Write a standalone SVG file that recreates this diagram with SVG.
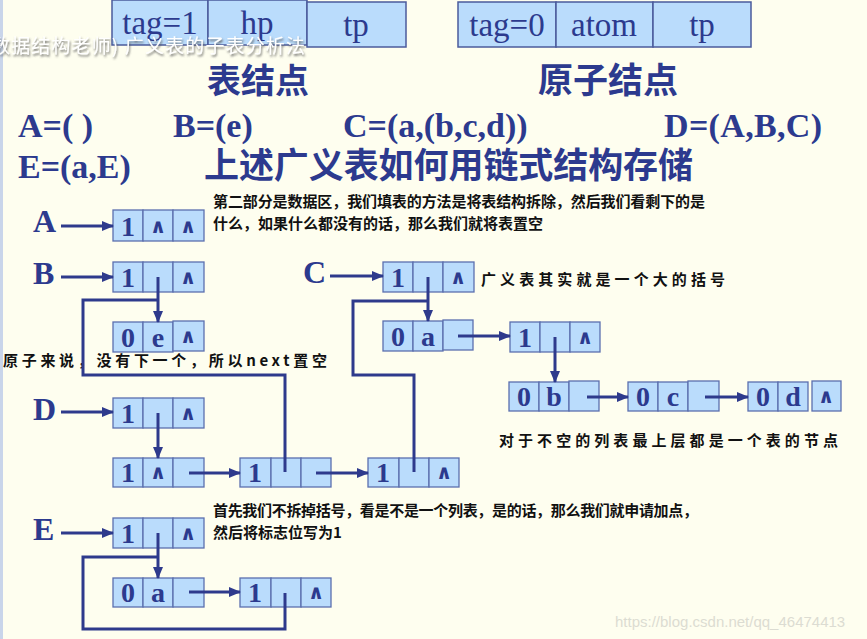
<svg xmlns="http://www.w3.org/2000/svg" width="867" height="639" viewBox="0 0 867 639">
<defs>
<style>
.c{fill:#BADCFC;stroke:#5B6FAE;stroke-width:1.3}
.tc{fill:#BADCFC;stroke:#4B5B9C;stroke-width:1.5}
.tt{font-family:"Liberation Serif",serif;font-size:33px;fill:#2C3A8E;text-anchor:middle}
.big{font-family:"Liberation Serif",serif;font-weight:bold;font-size:34px;fill:#2C3A8E}
.lab{font-family:"Liberation Serif",serif;font-weight:bold;font-size:32px;fill:#2C3A8E}
.v{font-family:"Liberation Serif",serif;font-weight:bold;font-size:28px;fill:#2C3A8E;text-anchor:middle}
.n{font-family:"DejaVu Sans",sans-serif;font-weight:bold;font-size:20px;fill:#2C3A8E;text-anchor:middle}
.h{font-family:"Noto Sans CJK SC",sans-serif;font-weight:bold;fill:#2C3A8E}
.p{font-family:"Noto Sans CJK SC",sans-serif;font-weight:bold;font-size:15px;fill:#111}
.ln{fill:none;stroke:#2E3A8C;stroke-width:3}
.ar{fill:none;stroke:#2E3A8C;stroke-width:3;marker-end:url(#ah)}
</style>
<marker id="ah" markerUnits="userSpaceOnUse" markerWidth="12" markerHeight="10" refX="11" refY="5" orient="auto">
<path d="M0,0 L12,5 L0,10 Z" fill="#2E3A8C"/>
</marker>
<filter id="sh" x="-5%" y="-30%" width="110%" height="160%">
<feDropShadow dx="1" dy="2" stdDeviation="1.2" flood-color="#555" flood-opacity="0.8"/>
</filter>
</defs>
<rect width="867" height="639" fill="#FEFEEF"/>
<rect width="3" height="639" fill="#C9D5EA"/>

<g id="table-node">
<rect class="tc" x="112" y="0" width="96" height="45"/>
<rect class="tc" x="208" y="0" width="99" height="45"/>
<rect class="tc" x="307" y="2" width="99" height="45"/>
<text class="tt" x="160" y="34">tag=1</text>
<text class="tt" x="257" y="34">hp</text>
<text class="tt" x="356" y="36">tp</text>
<text class="h" x="207" y="93" font-size="34">表结点</text>
</g>
<g id="atom-node">
<rect class="tc" x="458" y="2" width="98" height="45"/>
<rect class="tc" x="556" y="2" width="97" height="45"/>
<rect class="tc" x="653" y="2" width="98" height="45"/>
<text class="tt" x="507" y="36">tag=0</text>
<text class="tt" x="604" y="36">atom</text>
<text class="tt" x="702" y="36">tp</text>
<text class="h" x="538" y="93" font-size="35">原子结点</text>
</g>

<g id="overlay-title" filter="url(#sh)">
<text x="-9" y="53" font-family="Noto Sans CJK SC,sans-serif" font-size="19" fill="#FFFFFF" textLength="314">数据结构老师) 广义表的子表分析法</text>
</g>

<g id="definitions">
<text class="big" x="18" y="137">A=( )</text>
<text class="big" x="173" y="137">B=(e)</text>
<text class="big" x="343" y="137">C=(a,(b,c,d))</text>
<text class="big" x="664" y="137" textLength="158">D=(A,B,C)</text>
<text class="big" x="18" y="178">E=(a,E)</text>
<text class="h" x="204" y="178" font-size="35" textLength="489">上述广义表如何用链式结构存储</text>
</g>

<g id="notes">
<text class="p" x="213" y="207" textLength="492">第二部分是数据区，我们填表的方法是将表结构拆除，然后我们看剩下的是</text>
<text class="p" x="213" y="229">什么，如果什么都没有的话，那么我们就将表置空</text>
<text class="p" x="481" y="285" textLength="244">广义表其实就是一个大的括号</text>
<text class="p" x="3" y="366" textLength="324">原子来说，没有下一个，所以next置空</text>
<text class="p" x="499" y="446" textLength="339">对于不空的列表最上层都是一个表的节点</text>
<text class="p" x="213" y="516" textLength="485">首先我们不拆掉括号，看是不是一个列表，是的话，那么我们就申请加点，</text>
<text class="p" x="213" y="538">然后将标志位写为1</text>
</g>

<g id="labels">
<text class="lab" x="33" y="232">A</text>
<text class="lab" x="33" y="284">B</text>
<text class="lab" x="303" y="283">C</text>
<text class="lab" x="33" y="420">D</text>
<text class="lab" x="33" y="540">E</text>
</g>

<g id="nodeA">
<rect class="c" x="113" y="210" width="30" height="31"/><rect class="c" x="143" y="210" width="30" height="31"/><rect class="c" x="173" y="210" width="31" height="31"/>
<text class="v" x="128" y="236">1</text><text class="n" x="158" y="233">∧</text><text class="n" x="188" y="233">∧</text>
</g>
<g id="nodeB">
<rect class="c" x="113" y="262" width="30" height="30"/><rect class="c" x="143" y="262" width="30" height="30"/><rect class="c" x="173" y="262" width="31" height="30"/>
<text class="v" x="128" y="287">1</text><text class="n" x="188" y="284">∧</text>
</g>
<g id="nodeB-e">
<rect class="c" x="113" y="322" width="30" height="30"/><rect class="c" x="143" y="322" width="30" height="30"/><rect class="c" x="173" y="321" width="31" height="30"/>
<text class="v" x="128" y="347">0</text><text class="v" x="158" y="347">e</text><text class="n" x="188" y="343">∧</text>
</g>
<g id="nodeC">
<rect class="c" x="383" y="262" width="30" height="30"/><rect class="c" x="413" y="262" width="30" height="30"/><rect class="c" x="443" y="262" width="31" height="30"/>
<text class="v" x="398" y="287">1</text><text class="n" x="458" y="284">∧</text>
</g>
<g id="nodeC-a">
<rect class="c" x="383" y="321" width="30" height="30"/><rect class="c" x="413" y="321" width="30" height="30"/><rect class="c" x="443" y="320" width="30" height="30"/>
<text class="v" x="398" y="346">0</text><text class="v" x="428" y="346">a</text>
</g>
<g id="nodeC-1">
<rect class="c" x="510" y="322" width="30" height="30"/><rect class="c" x="540" y="322" width="30" height="30"/><rect class="c" x="570" y="322" width="30" height="30"/>
<text class="v" x="525" y="347">1</text><text class="n" x="585" y="344">∧</text>
</g>
<g id="nodeC-b">
<rect class="c" x="509" y="382" width="30" height="29"/><rect class="c" x="539" y="382" width="30" height="29"/><rect class="c" x="569" y="381" width="30" height="30"/>
<text class="v" x="524" y="406">0</text><text class="v" x="554" y="406">b</text>
</g>
<g id="nodeC-c">
<rect class="c" x="628" y="382" width="30" height="29"/><rect class="c" x="658" y="382" width="30" height="29"/><rect class="c" x="688" y="381" width="31" height="30"/>
<text class="v" x="643" y="406">0</text><text class="v" x="673" y="406">c</text>
</g>
<g id="nodeC-d">
<rect class="c" x="748" y="382" width="30" height="29"/><rect class="c" x="778" y="382" width="30" height="29"/><rect class="c" x="812" y="381" width="29" height="30"/>
<text class="v" x="763" y="406">0</text><text class="v" x="793" y="406">d</text><text class="n" x="826" y="403">∧</text>
</g>
<g id="nodeD">
<rect class="c" x="113" y="398" width="30" height="30"/><rect class="c" x="143" y="398" width="30" height="30"/><rect class="c" x="173" y="398" width="31" height="30"/>
<text class="v" x="128" y="423">1</text><text class="n" x="188" y="420">∧</text>
</g>
<g id="nodeD-1">
<rect class="c" x="113" y="458" width="30" height="29"/><rect class="c" x="143" y="458" width="30" height="29"/><rect class="c" x="173" y="458" width="31" height="29"/>
<text class="v" x="128" y="482">1</text><text class="n" x="158" y="479">∧</text>
</g>
<g id="nodeD-2">
<rect class="c" x="240" y="458" width="31" height="29"/><rect class="c" x="271" y="458" width="30" height="29"/><rect class="c" x="301" y="458" width="30" height="29"/>
<text class="v" x="255" y="482">1</text>
</g>
<g id="nodeD-3">
<rect class="c" x="368" y="458" width="31" height="29"/><rect class="c" x="399" y="458" width="30" height="29"/><rect class="c" x="429" y="458" width="30" height="29"/>
<text class="v" x="383" y="482">1</text><text class="n" x="444" y="479">∧</text>
</g>
<g id="nodeE">
<rect class="c" x="113" y="518" width="30" height="30"/><rect class="c" x="143" y="518" width="30" height="30"/><rect class="c" x="173" y="518" width="31" height="30"/>
<text class="v" x="128" y="543">1</text><text class="n" x="188" y="540">∧</text>
</g>
<g id="nodeE-a">
<rect class="c" x="113" y="578" width="30" height="29"/><rect class="c" x="143" y="578" width="30" height="29"/><rect class="c" x="173" y="578" width="31" height="29"/>
<text class="v" x="128" y="602">0</text><text class="v" x="158" y="602">a</text>
</g>
<g id="nodeE-1">
<rect class="c" x="240" y="578" width="31" height="29"/><rect class="c" x="271" y="578" width="30" height="29"/><rect class="c" x="301" y="578" width="30" height="29"/>
<text class="v" x="255" y="602">1</text><text class="n" x="316" y="599">∧</text>
</g>

<g id="connectors">
<line class="ar" x1="61" y1="226" x2="113" y2="226"/>
<line class="ar" x1="61" y1="277" x2="113" y2="277"/>
<line class="ar" x1="158" y1="277" x2="158" y2="322"/>
<polyline class="ln" points="158,300 83,300 83,375 285,375 285,472"/>
<line class="ar" x1="330" y1="276" x2="383" y2="276"/>
<line class="ar" x1="428" y1="277" x2="428" y2="321"/>
<polyline class="ln" points="428,301 353,301 353,375 414,375 414,472"/>
<line class="ar" x1="458" y1="336" x2="510" y2="336"/>
<line class="ar" x1="555" y1="337" x2="555" y2="382"/>
<line class="ar" x1="587" y1="397" x2="628" y2="397"/>
<line class="ar" x1="705" y1="397" x2="748" y2="397"/>
<line class="ar" x1="61" y1="412" x2="113" y2="412"/>
<line class="ar" x1="158" y1="413" x2="158" y2="458"/>
<line class="ar" x1="189" y1="473" x2="240" y2="473"/>
<line class="ar" x1="316" y1="473" x2="368" y2="473"/>
<line class="ar" x1="61" y1="533" x2="113" y2="533"/>
<line class="ar" x1="158" y1="533" x2="158" y2="578"/>
<polyline class="ln" points="158,557 83,557 83,629 285,629 285,593"/>
<line class="ar" x1="189" y1="592" x2="240" y2="592"/>
</g>

<text x="615" y="627" font-family="Liberation Sans,sans-serif" font-size="15" fill="#DCDCD2">https://blog.csdn.net/qq_46474413</text>
</svg>
